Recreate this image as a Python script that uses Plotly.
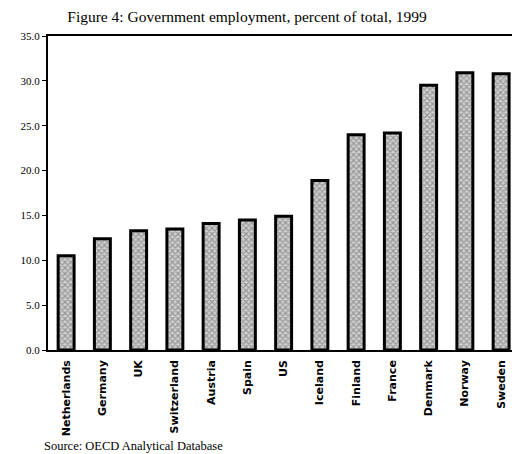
import plotly.graph_objects as go

# Government employment as a share of total employment, 1999
countries = ["Netherlands", "Germany", "UK", "Switzerland", "Austria", "Spain",
             "US", "Iceland", "Finland", "France", "Denmark", "Norway", "Sweden"]
share_pct = [10.5, 12.4, 13.3, 13.5, 14.1, 14.5, 14.9, 18.9, 24.0, 24.2, 29.5, 30.9, 30.8]
y_ticks = [0, 5, 10, 15, 20, 25, 30, 35]
y_tick_text = [f"{v:.1f}" for v in y_ticks]

fig = go.Figure()
fig.add_trace(go.Bar(
    x=countries,
    y=share_pct,
    width=0.44,
    marker=dict(
        color="#c4c4c4",
        line=dict(color="black", width=3),
        pattern=dict(shape="x", fgcolor="#5e5e5e", bgcolor="#d0d0d0", size=4, solidity=0.5),
    ),
    showlegend=False,
))

fig.update_layout(
    width=512,
    height=454,
    margin=dict(l=48, r=0, t=36, b=104),
    paper_bgcolor="white",
    plot_bgcolor="white",
    title=dict(
        text="Figure 4: Government employment, percent of total, 1999",
        font=dict(family="Liberation Serif", size=15.5, color="black"),
        x=247 / 512, xref="container", xanchor="center",
        y=1 - 17 / 454, yref="container", yanchor="middle",
    ),
    xaxis=dict(
        range=[-0.5, 12.3],
        showgrid=False,
        showline=True, linecolor="black", linewidth=1.5, mirror=True,
        ticks="",
        tickangle=-90,
        tickfont=dict(family="DejaVu Sans", size=11, color="black", weight="bold"),
        ticklabelstandoff=4,
    ),
    yaxis=dict(
        range=[0, 35],
        tickvals=y_ticks,
        ticktext=y_tick_text,
        showgrid=False,
        zeroline=False,
        showline=True, linecolor="black", linewidth=2,
        ticks="outside", ticklen=4, tickcolor="black", tickwidth=1,
        tickfont=dict(family="Liberation Serif", size=11, color="black"),
    ),
    annotations=[dict(
        text="Source: OECD Analytical Database",
        xref="paper", yref="paper",
        x=-6 / 464, y=-96 / 314,
        xanchor="left", yanchor="middle",
        showarrow=False,
        font=dict(family="Liberation Serif", size=12.5, color="black"),
    )],
)

fig.write_html("out.html")
